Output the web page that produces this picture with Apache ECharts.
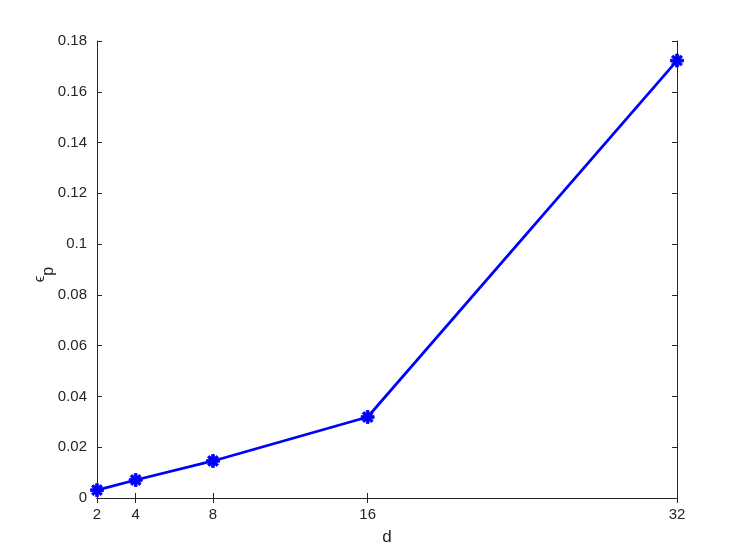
<!DOCTYPE html>
<html>
<head>
<meta charset="utf-8">
<script src="https://cdn.jsdelivr.net/npm/echarts@6/dist/echarts.min.js"></script>
<style>
  html, body { margin: 0; padding: 0; background: #fff; }
  #chart { width: 747px; height: 560px; }
</style>
</head>
<body>
<div id="chart"></div>
<script>
const dValues = [2, 4, 8, 16, 32]
const epsP = [0.0031, 0.0071, 0.0146, 0.0319, 0.1723]
const xTicks = [2, 4, 8, 16, 32]

const AXIS = '#262626'
const FONT = '"Liberation Sans", Arial, sans-serif'

// asterisk marker, like matlab '*'
const star = 'path://M-1.3,-6 L1.3,-6 L1.3,6 L-1.3,6 Z M-6,-1.3 L6,-1.3 L6,1.3 L-6,1.3 Z ' +
  'M-5.1,-3.3 L-3.3,-5.1 L5.1,3.3 L3.3,5.1 Z M3.3,-5.1 L5.1,-3.3 L-3.3,5.1 L-5.1,3.3 Z'

const chart = echarts.init(document.getElementById('chart'), null, { renderer: 'canvas' })

const baseX = {
  type: 'value',
  min: 2,
  max: 32,
  axisLine: { show: true, lineStyle: { color: AXIS, width: 1 } },
  axisTick: { show: true, inside: true, length: 5, customValues: xTicks, lineStyle: { color: AXIS } },
  splitLine: { show: false },
}
const baseY = {
  type: 'value',
  min: 0,
  max: 0.18,
  interval: 0.02,
  axisLine: { show: true, lineStyle: { color: AXIS, width: 1 } },
  axisTick: { show: true, inside: true, length: 5, lineStyle: { color: AXIS } },
  splitLine: { show: false },
}

chart.setOption({
  animation: false,
  backgroundColor: '#fff',
  grid: { left: 97, right: 70, top: 41, bottom: 62 },
  xAxis: [
    {
      ...baseX,
      position: 'bottom',
      name: 'd',
      nameLocation: 'middle',
      nameGap: 31,
      nameMoveOverlap: false,
      nameTextStyle: { color: AXIS, fontSize: 17, fontFamily: FONT },
      axisLabel: { customValues: xTicks, color: AXIS, fontSize: 15, fontFamily: FONT, margin: 9 },
    },
    { ...baseX, position: 'top', axisLabel: { show: false } },
  ],
  yAxis: [
    {
      ...baseY,
      position: 'left',
      name: '{e|ϵ}{p|p}',
      nameLocation: 'middle',
      nameGap: 40,
      nameMoveOverlap: false,
      nameTextStyle: {
        color: AXIS,
        fontFamily: FONT,
        rich: {
          e: { fontSize: 15, color: AXIS, fontFamily: FONT },
          p: { fontSize: 16, color: AXIS, fontFamily: FONT, padding: [18, 10, 0, 0] },
        },
      },
      axisLabel: { color: AXIS, fontSize: 15, fontFamily: FONT, margin: 10 },
    },
    { ...baseY, position: 'right', axisLabel: { show: false } },
  ],
  series: [
    {
      type: 'line',
      data: dValues.map((d, i) => [d, epsP[i]]),
      symbol: star,
      symbolSize: 13,
      showSymbol: true,
      lineStyle: { color: '#0000ff', width: 2.7 },
      itemStyle: { color: '#0000ff', borderColor: '#0000ff', borderWidth: 0.8 },
    },
  ],
})
</script>
</body>
</html>
